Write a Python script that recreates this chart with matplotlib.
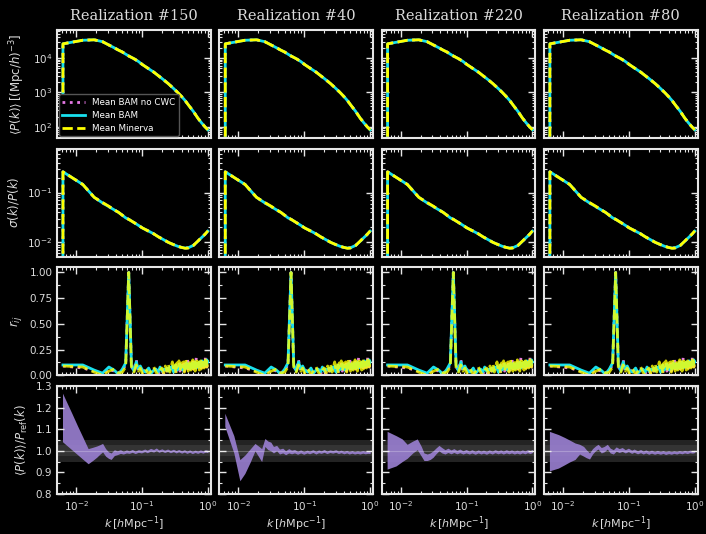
import numpy as np
import matplotlib
matplotlib.use("Agg")
import matplotlib.pyplot as plt
from matplotlib.ticker import MultipleLocator

titles = ["Realization #150", "Realization #40", "Realization #220", "Realization #80"]

# ---- mean power spectrum (same in every column) ----
k_pk = [0.0063, 0.0063, 0.0126, 0.0188, 0.0251, 0.0314, 0.0377, 0.0440, 0.0503, 0.0565,
        0.0628, 0.0754, 0.0880, 0.101, 0.126, 0.151, 0.176, 0.201, 0.251, 0.302,
        0.352, 0.402, 0.452, 0.503, 0.603, 0.704, 0.804, 0.905, 1.0]
pk_nocwc = [1.0, 2.6e4, 3.3e4, 3.4e4, 3.0e4, 2.4e4, 2.0e4, 1.7e4, 1.5e4, 1.3e4,
            1.15e4, 9.6e3, 8.0e3, 6.5e3, 4.9e3, 3.9e3, 3.1e3, 2.55e3, 1.8e3, 1.3e3,
            9.8e2, 7.5e2, 5.8e2, 4.4e2, 2.8e2, 1.8e2, 1.3e2, 1.0e2, 82]
pk_bam = [1.0, 2.6e4, 3.3e4, 3.4e4, 3.0e4, 2.4e4, 2.0e4, 1.7e4, 1.5e4, 1.3e4,
          1.15e4, 9.6e3, 8.0e3, 6.5e3, 4.9e3, 3.9e3, 3.1e3, 2.55e3, 1.8e3, 1.3e3,
          9.8e2, 7.5e2, 5.8e2, 4.4e2, 2.8e2, 1.8e2, 1.3e2, 1.0e2, 82]
pk_minerva = [1.0, 2.6e4, 3.3e4, 3.4e4, 3.0e4, 2.4e4, 2.0e4, 1.7e4, 1.5e4, 1.3e4,
              1.15e4, 9.6e3, 8.0e3, 6.5e3, 4.9e3, 3.9e3, 3.1e3, 2.55e3, 1.8e3, 1.3e3,
              9.8e2, 7.5e2, 5.8e2, 4.4e2, 2.8e2, 1.8e2, 1.3e2, 1.0e2, 82]

# ---- sigma(k)/P(k) ----
sig_nocwc = [1e-4, 0.26, 0.145, 0.080, 0.062, 0.052, 0.045, 0.040, 0.035, 0.031,
             0.029, 0.025, 0.022, 0.0195, 0.0168, 0.0148, 0.0130, 0.0118, 0.0100, 0.0090,
             0.0083, 0.0079, 0.0077, 0.0078, 0.0087, 0.0105, 0.0125, 0.0145, 0.0168]
sig_bam = [1e-4, 0.26, 0.145, 0.080, 0.062, 0.052, 0.045, 0.040, 0.035, 0.031,
           0.029, 0.025, 0.022, 0.0195, 0.0168, 0.0148, 0.0130, 0.0118, 0.0100, 0.0090,
           0.0083, 0.0079, 0.0077, 0.0078, 0.0087, 0.0105, 0.0125, 0.0145, 0.0168]
sig_minerva = [1e-4, 0.26, 0.145, 0.080, 0.063, 0.053, 0.045, 0.040, 0.035, 0.031,
               0.029, 0.025, 0.022, 0.0195, 0.0168, 0.0148, 0.0130, 0.0118, 0.0100, 0.0090,
               0.0083, 0.0079, 0.0076, 0.0077, 0.0087, 0.0106, 0.0126, 0.0146, 0.0170]

# ---- correlation coefficient r_ij for the bin at k ~ 0.063 ----
k_r = [0.0063, 0.0126, 0.0188, 0.0251, 0.0314, 0.0377, 0.0440, 0.0503, 0.0565, 0.0628,
       0.0691, 0.0754, 0.0817, 0.0880, 0.0942,
       0.101, 0.113, 0.126, 0.138, 0.151, 0.163, 0.176, 0.188, 0.201, 0.214, 0.226, 0.239,
       0.251, 0.264, 0.276, 0.289, 0.302, 0.314, 0.327, 0.339, 0.352, 0.364, 0.377, 0.390,
       0.402, 0.415, 0.427, 0.440, 0.452, 0.465, 0.477, 0.490, 0.503, 0.515, 0.528, 0.540,
       0.553, 0.565, 0.578, 0.590, 0.603, 0.616, 0.628, 0.641, 0.653, 0.666, 0.678, 0.691,
       0.704, 0.716, 0.729, 0.741, 0.754, 0.766, 0.779, 0.791, 0.804, 0.817, 0.829, 0.842,
       0.854, 0.867, 0.879, 0.892, 0.905, 0.917, 0.930, 0.942, 0.955, 0.967, 0.980, 0.992]
r_nocwc = [0.09, 0.07, 0.04, 0.01, 0.06, 0.04, 0.02, 0.05, 0.10, 1.00,
           0.08, 0.05, 0.15, 0.03, 0.07,
           0.03, 0.05, 0.02, 0.04, 0.07, 0.03, 0.01, 0.05, 0.04, 0.02, 0.06, 0.04,
           0.08, 0.03, 0.07, 0.10, 0.04, 0.08, 0.02, 0.09, 0.06, 0.11, 0.04, 0.07,
           0.09, 0.05, 0.11, 0.04, 0.08, 0.13, 0.06, 0.16, 0.05, 0.11, 0.07, 0.12,
           0.05, 0.10, 0.08, 0.13, 0.06, 0.09, 0.11, 0.05, 0.10, 0.17, 0.11, 0.07,
           0.11, 0.08, 0.13, 0.06, 0.10, 0.09, 0.12, 0.07, 0.11, 0.10, 0.13, 0.08,
           0.10, 0.12, 0.07, 0.11, 0.09, 0.18, 0.08, 0.11, 0.12, 0.08, 0.11, 0.10]
r_bam = [0.10, 0.10, 0.05, 0.02, 0.08, 0.05, 0.01, 0.06, 0.12, 1.00,
         0.10, 0.04, 0.13, 0.06, 0.09,
         0.05, 0.03, 0.07, 0.02, 0.05, 0.06, 0.03, 0.08, 0.04, 0.06, 0.05, 0.07,
         0.04, 0.08, 0.06, 0.09, 0.03, 0.07, 0.10, 0.05, 0.08, 0.06, 0.11, 0.07,
         0.09, 0.05, 0.08, 0.10, 0.06, 0.09, 0.12, 0.07, 0.10, 0.08, 0.11, 0.06,
         0.10, 0.08, 0.12, 0.07, 0.09, 0.11, 0.08, 0.13, 0.09, 0.07, 0.11, 0.10,
         0.08, 0.12, 0.09, 0.11, 0.13, 0.08, 0.10, 0.12, 0.09, 0.14, 0.10, 0.12,
         0.11, 0.09, 0.13, 0.10, 0.12, 0.14, 0.11, 0.13, 0.10, 0.15, 0.12, 0.13]
r_minerva = [0.09, 0.08, 0.03, 0.00, 0.04, 0.06, 0.02, 0.03, 0.08, 1.00,
             0.06, 0.03, 0.10, 0.04, 0.07,
             0.02, 0.06, 0.01, 0.04, 0.08, 0.03, 0.00, 0.05, 0.07, 0.02, 0.09, 0.04,
             0.11, 0.03, 0.08, 0.13, 0.05, 0.10, 0.02, 0.12, 0.07, 0.14, 0.04, 0.09,
             0.12, 0.06, 0.13, 0.03, 0.10, 0.15, 0.07, 0.11, 0.04, 0.13, 0.08, 0.14,
             0.05, 0.12, 0.09, 0.15, 0.06, 0.11, 0.13, 0.04, 0.12, 0.10, 0.14, 0.07,
             0.13, 0.09, 0.15, 0.05, 0.12, 0.10, 0.14, 0.06, 0.13, 0.11, 0.15, 0.08,
             0.12, 0.14, 0.07, 0.13, 0.10, 0.15, 0.09, 0.12, 0.14, 0.08, 0.13, 0.11]

# ---- ratio <P(k)>/P_ref(k), band per realization ----
k_q = [0.0062, 0.0085, 0.0105, 0.0125, 0.0152, 0.0178, 0.0205, 0.0225, 0.0252, 0.028, 0.031, 0.034,
       0.038, 0.042, 0.047, 0.052, 0.058, 0.064, 0.071, 0.079, 0.088, 0.098, 0.11, 0.12,
       0.135, 0.15, 0.165, 0.18, 0.2, 0.22, 0.245, 0.27, 0.3, 0.33, 0.36, 0.4,
       0.44, 0.48, 0.53, 0.58, 0.64, 0.7, 0.77, 0.84, 0.92, 1.0]
q_lo_150 = [1.042, 1.006, 0.982, 0.962, 0.940, 0.955, 0.970, 0.982, 0.995, 0.975, 0.965, 0.960,
            0.978, 0.982, 0.988, 0.985, 0.990, 0.988, 0.993, 0.987, 0.993, 0.990, 0.996, 0.991,
            0.998, 0.994, 1.001, 0.993, 0.998, 0.992, 0.997, 0.991, 0.996, 0.990, 0.995, 0.989,
            0.994, 0.988, 0.993, 0.987, 0.992, 0.988, 0.993, 0.989, 0.994, 0.991]
q_hi_150 = [1.267, 1.177, 1.115, 1.066, 1.010, 1.016, 1.022, 1.027, 1.034, 1.010, 0.995, 0.990,
            1.005, 1.000, 1.005, 0.998, 1.004, 1.000, 1.006, 0.999, 1.005, 1.002, 1.008, 1.003,
            1.011, 1.006, 1.013, 1.004, 1.009, 1.003, 1.008, 1.002, 1.007, 1.001, 1.006, 1.000,
            1.005, 0.999, 1.004, 0.998, 1.003, 0.999, 1.004, 1.000, 1.005, 1.002]
q_lo_40 = [1.113, 0.990, 0.861, 0.895, 0.950, 1.000, 0.970, 0.950, 1.020, 1.005, 1.000, 0.990,
           1.000, 0.985, 0.990, 0.982, 0.990, 0.986, 0.990, 0.984, 0.990, 0.984, 0.990, 0.986,
           0.992, 0.985, 0.991, 0.988, 0.993, 0.987, 0.992, 0.989, 0.993, 0.987, 0.991, 0.986,
           0.990, 0.985, 0.989, 0.985, 0.988, 0.985, 0.989, 0.986, 0.988, 0.987]
q_hi_40 = [1.174, 1.070, 0.959, 0.980, 1.010, 1.034, 1.020, 1.010, 1.057, 1.045, 1.040, 1.020,
           1.025, 1.008, 1.012, 1.000, 1.010, 1.003, 1.006, 0.998, 1.004, 0.997, 1.003, 0.999,
           1.005, 0.998, 1.004, 1.000, 1.006, 0.999, 1.004, 1.001, 1.005, 0.999, 1.003, 0.998,
           1.002, 0.997, 1.001, 0.996, 1.000, 0.997, 1.001, 0.998, 1.000, 0.999]
q_lo_220 = [0.915, 0.930, 0.950, 0.965, 0.990, 1.005, 0.975, 0.955, 0.955, 0.960, 0.970, 0.985,
            1.000, 0.990, 0.985, 0.992, 0.986, 0.992, 0.986, 0.991, 0.985, 0.990, 0.985, 0.990,
            0.984, 0.990, 0.985, 0.989, 0.984, 0.990, 0.985, 0.991, 0.986, 0.990, 0.985, 0.990,
            0.986, 0.990, 0.985, 0.989, 0.985, 0.990, 0.986, 0.991, 0.987, 0.992]
q_hi_220 = [1.090, 1.070, 1.055, 1.030, 1.045, 1.055, 1.020, 0.990, 0.985, 0.990, 1.000, 1.012,
            1.025, 1.015, 1.005, 1.012, 1.004, 1.010, 1.002, 1.008, 1.000, 1.006, 0.999, 1.005,
            0.998, 1.004, 0.999, 1.003, 0.998, 1.004, 0.999, 1.005, 1.000, 1.004, 0.999, 1.005,
            1.000, 1.004, 0.999, 1.003, 0.999, 1.004, 1.000, 1.005, 1.001, 1.006]
q_lo_80 = [0.907, 0.920, 0.935, 0.948, 0.960, 0.985, 0.975, 0.968, 0.962, 0.985, 1.000, 1.008,
           0.990, 0.995, 1.008, 0.990, 0.985, 0.998, 0.992, 0.997, 0.990, 0.996, 0.988, 0.993,
           0.986, 0.991, 0.985, 0.990, 0.984, 0.989, 0.984, 0.988, 0.984, 0.988, 0.983, 0.987,
           0.984, 0.988, 0.985, 0.989, 0.986, 0.990, 0.987, 0.991, 0.989, 0.992]
q_hi_80 = [1.090, 1.075, 1.062, 1.050, 1.036, 1.030, 1.020, 1.005, 0.990, 1.010, 1.022, 1.030,
           1.015, 1.020, 1.030, 1.012, 1.005, 1.018, 1.010, 1.015, 1.005, 1.012, 1.003, 1.008,
           1.000, 1.006, 0.999, 1.004, 0.998, 1.003, 0.997, 1.002, 0.997, 1.001, 0.996, 1.000,
           0.996, 1.000, 0.997, 1.001, 0.998, 1.002, 0.999, 1.003, 1.000, 1.003]

q_lo = [q_lo_150, q_lo_40, q_lo_220, q_lo_80]
q_hi = [q_hi_150, q_hi_40, q_hi_220, q_hi_80]

c_nocwc = "#e377e3"
c_bam = "#19e0ee"
c_min = "#ffff00"
c_fill = "#9b80d3"
fg = "#dcdcdc"

plt.style.use("dark_background")
plt.rcParams["font.size"] = 7.5
plt.rcParams["mathtext.fontset"] = "dejavusans"

fig, axes = plt.subplots(4, 4, figsize=(7.06, 5.34), dpi=100,
                         gridspec_kw=dict(left=0.081, right=0.988, top=0.944, bottom=0.075,
                                          wspace=0.058, hspace=0.10))

for c in range(4):
    # row 0: power spectrum
    ax = axes[0, c]
    ax.plot(k_pk, pk_nocwc, color=c_nocwc, ls=":", lw=2, label="Mean BAM no CWC")
    ax.plot(k_pk, pk_bam, color=c_bam, ls="-", lw=2, label="Mean BAM")
    ax.plot(k_pk, pk_minerva, color=c_min, ls="--", lw=2, label="Mean Minerva")
    ax.set_yscale("log")
    ax.set_ylim(48, 6.6e4)
    ax.set_title(titles[c], family="DejaVu Serif", fontsize=10.5, color=fg, pad=7)
    if c == 0:
        ax.legend(loc="lower left", fontsize=6.3, frameon=True, facecolor="black",
                  edgecolor="#555555", framealpha=1, handlelength=2.6,
                  borderpad=0.4, labelspacing=0.45, borderaxespad=0.2)

    # row 1: sigma/P
    ax = axes[1, c]
    ax.plot(k_pk, sig_nocwc, color=c_nocwc, ls=":", lw=2)
    ax.plot(k_pk, sig_bam, color=c_bam, ls="-", lw=2)
    ax.plot(k_pk, sig_minerva, color=c_min, ls="--", lw=2)
    ax.set_yscale("log")
    ax.set_ylim(0.0052, 0.76)

    # row 2: r_ij
    ax = axes[2, c]
    ax.plot(k_r, r_nocwc, color=c_nocwc, ls=":", lw=2)
    ax.plot(k_r, r_bam, color=c_bam, ls="-", lw=2)
    ax.plot(k_r, r_minerva, color=c_min, ls="--", lw=2, alpha=0.8)
    ax.set_ylim(0, 1.05)
    ax.yaxis.set_major_locator(MultipleLocator(0.25))
    ax.yaxis.set_minor_locator(MultipleLocator(0.125))

    # row 3: ratio to reference
    ax = axes[3, c]
    ax.axhspan(0.95, 1.05, color="white", alpha=0.14, lw=0)
    ax.axhspan(0.975, 1.025, color="white", alpha=0.08, lw=0)
    ax.axhline(1.0, color="white", alpha=0.25, lw=0.8)
    ax.fill_between(k_q, q_lo[c], q_hi[c], color=c_fill, alpha=0.9, lw=0)
    ax.set_ylim(0.8, 1.3)
    ax.yaxis.set_major_locator(MultipleLocator(0.1))
    ax.yaxis.set_minor_locator(MultipleLocator(0.05))
    ax.set_xlabel(r"$k\,[h\mathrm{Mpc}^{-1}]$", fontsize=8, color=fg, labelpad=1)

for r in range(4):
    for c in range(4):
        ax = axes[r, c]
        ax.set_facecolor("black")
        ax.set_xscale("log")
        ax.set_xlim(0.00515, 1.1)
        ax.tick_params(which="both", direction="in", top=True, right=True,
                       color="#e6e6e6", labelcolor=fg, labelsize=7.5)
        ax.tick_params(which="major", length=5, width=1)
        ax.tick_params(which="minor", length=2.5, width=0.8)
        for s in ax.spines.values():
            s.set_color("#e6e6e6")
            s.set_linewidth(1.5)
        if c > 0:
            ax.tick_params(labelleft=False)
        if r < 3:
            ax.tick_params(labelbottom=False)

axes[0, 0].set_ylabel(r"$\langle P(k)\rangle\,[(\mathrm{Mpc}/h)^{-3}]$", color=fg, fontsize=8.5)
axes[1, 0].set_ylabel(r"$\sigma(k)/P(k)$", color=fg, fontsize=8.5)
axes[2, 0].set_ylabel(r"$r_{ij}$", color=fg, fontsize=8.5)
axes[3, 0].set_ylabel(r"$\langle P(k)\rangle/P_{\rm ref}(k)$", color=fg, fontsize=8.5)

fig.savefig("out.png", dpi=100, facecolor="black")
